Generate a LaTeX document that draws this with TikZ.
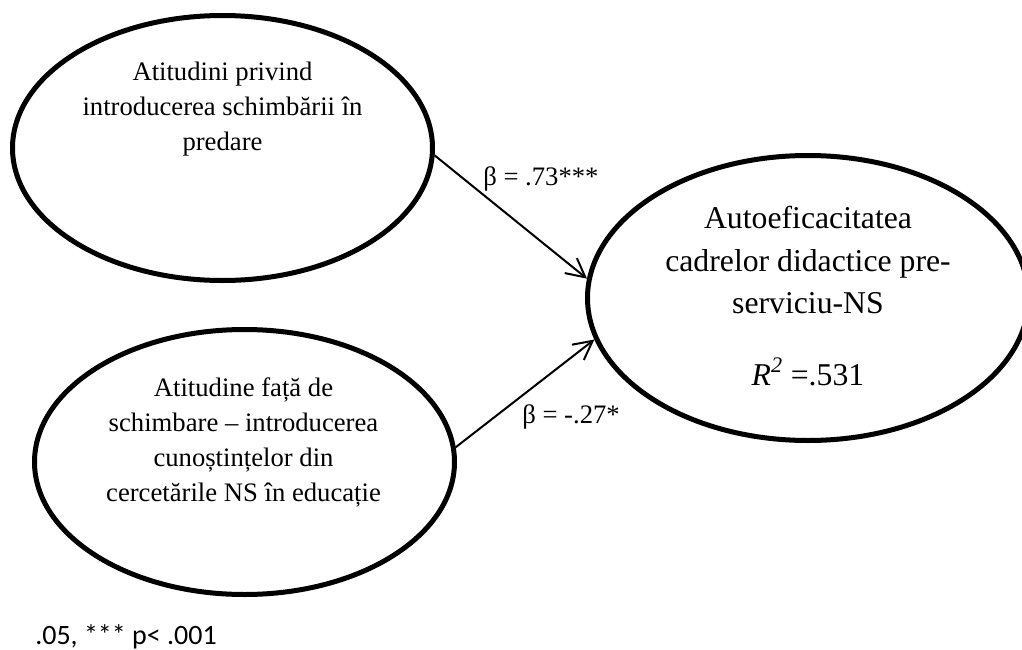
\documentclass[tikz,border=0pt]{standalone}
\usepackage{fontspec}
\setmainfont{Liberation Serif}
\newfontfamily\notafont{Carlito}
\usetikzlibrary{arrows.meta}
\usetikzlibrary{shapes.geometric}

\begin{document}
\begin{tikzpicture}[x=0.75pt, y=-0.75pt, >={Straight Barb[length=14pt,width=14.5pt]},
  latent/.style={ellipse, draw, line width=3.75pt, inner sep=0pt},
  textblock/.style={align=center, inner sep=0pt, font=\fontsize{20}{26.25}\selectfont},
  coef/.style={anchor=base west, inner sep=0pt, font=\fontsize{20}{24}\selectfont}]
\useasboundingbox (0,0) rectangle (1022,650);
\clip (0,0) rectangle (1022,650);
\node [latent, name=atitudini, minimum width=315pt, minimum height=198.75pt] at (222.5,148) {};
\node [latent, name=atitudine, minimum width=315pt, minimum height=198.75pt] at (244.5,462) {};
\node [latent, name=autoef, minimum width=330.75pt, minimum height=213.75pt] at (808,298) {};
\node [textblock, name=txtatitudini] at (222.5,109) {Atitudini privind\\introducerea schimbării în\\predare};
\node [textblock, name=txtatitudine] at (243.5,442) {Atitudine față de\\schimbare – introducerea\\cunoștințelor din\\cercetările NS în educație};
\node [textblock, name=txtautoef, font=\fontsize{23.8}{32}\selectfont] at (808,260) {Autoeficacitatea\\cadrelor didactice pre-\\serviciu-NS};
\node [anchor=base, inner sep=0pt, name=rpatrat, font=\fontsize{23.8}{32}\selectfont] at (808,385) {\textit{R\textsuperscript{2}} =.531};
\draw [->, line width=1.5pt] (atitudini.-2) -- (autoef.175);
\draw [->, line width=1.5pt] (atitudine.4) -- (autoef.191);
\node [coef, name=beta1] at (483,185) {β = .73***};
\node [coef, name=beta2] at (522,423) {β = -.27*};
\node [anchor=base west, inner sep=0pt, name=nota, font=\notafont\fontsize{21}{25}\selectfont] at (35,644) {.05, *** p< .001};
\end{tikzpicture}
\end{document}
